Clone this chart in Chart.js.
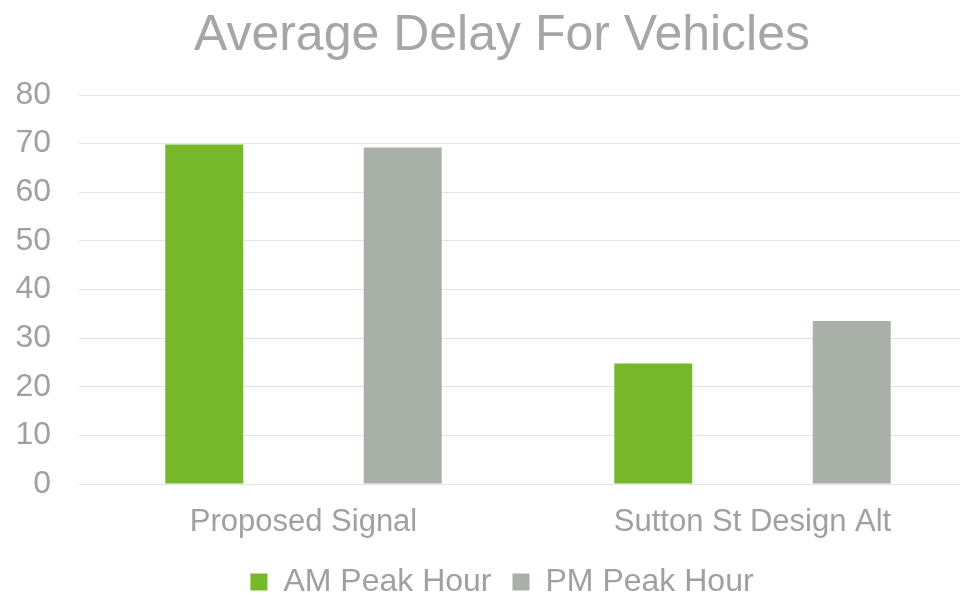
<!DOCTYPE html>
<html><head><meta charset="utf-8">
<script src="https://cdn.jsdelivr.net/npm/chart.js@4"></script>
<style>html,body{margin:0;padding:0;overflow:hidden;background:#fff;width:960px;height:595px}</style>
</head><body>
<canvas id="c" width="1004" height="595" style="width:1004px;height:595px;display:block"></canvas>
<script>
const categories = ["Proposed Signal", "Sutton St Design Alt"];
const amPeak = [69.8, 24.8];
const pmPeak = [69.2, 33.5];
const seriesNames = ["AM Peak Hour", "PM Peak Hour"];
const font = "'Liberation Sans', Arial, sans-serif";
new Chart(document.getElementById('c'), {
  type: 'bar',
  data: {
    labels: categories,
    datasets: [
      {label: seriesNames[0], data: amPeak, backgroundColor: '#76b82a', categoryPercentage: 0.884, barPercentage: 0.393},
      {label: seriesNames[1], data: pmPeak, backgroundColor: '#a9b0a8', categoryPercentage: 0.884, barPercentage: 0.393}
    ]
  },
  options: {
    responsive: false, devicePixelRatio: 1, animation: false,
    layout: {padding: {left: 0, right: 0, top: 0, bottom: -13}},
    plugins: {
      title: {display: true, text: 'Average Delay For Vehicles', color: '#a6a6a6', font: {family: font, size: 50, weight: 'normal'}, padding: {top: 6, bottom: 29}},
      legend: {position: 'bottom', labels: {color: '#a0a0a0', font: {family: font, size: 32}, boxWidth: 17, boxHeight: 17, padding: 21}},
      tooltip: {enabled: false}
    },
    scales: {
      y: {min: 0, max: 80, ticks: {stepSize: 10, color: '#a0a0a0', font: {family: font, size: 32}, padding: 28},
          afterFit: (s) => { s.width = 79; },
          grid: {color: '#e4e4e4', drawTicks: false}, border: {display: false}},
      yPad: {position: 'right', display: true, min: 0, max: 80,
          ticks: {display: false}, grid: {display: false, drawTicks: false}, border: {display: false},
          afterFit: (s) => { s.width = 27; }},
      x: {ticks: {color: '#a0a0a0', font: {family: font, size: 31}, padding: 20},
          afterFit: (s) => { s.height = 61; },
          grid: {display: false, drawTicks: false}, border: {color: '#e4e4e4'}}
    }
  }
});
</script>
</body></html>
